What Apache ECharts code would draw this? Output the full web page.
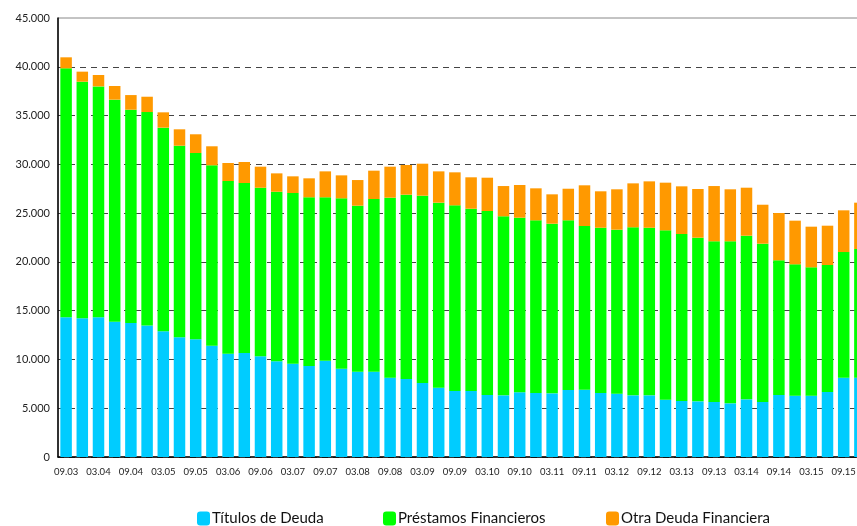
<!DOCTYPE html>
<html>
<head>
<meta charset="utf-8">
<script src="https://cdn.jsdelivr.net/npm/echarts@6/dist/echarts.min.js"></script>
<style>html,body{margin:0;padding:0;background:#fff;}#c{width:857px;height:526px;}</style>
</head>
<body>
<div id="c"></div>
<script>
const categories = [
  "09.03","12.03","03.04","06.04","09.04","12.04","03.05","06.05","09.05","12.05",
  "03.06","06.06","09.06","12.06","03.07","06.07","09.07","12.07","03.08","06.08",
  "09.08","12.08","03.09","06.09","09.09","12.09","03.10","06.10","09.10","12.10",
  "03.11","06.11","09.11","12.11","03.12","06.12","09.12","12.12","03.13","06.13",
  "09.13","12.13","03.14","06.14","09.14","12.14","03.15","06.15","09.15","12.15"
];
const titulosDeuda = [
  14320,14210,14320,13870,13730,13490,12880,12270,12060,11410,
  10590,10660,10320,9810,9570,9330,9870,9050,8750,8750,
  8130,7995,7585,7105,6765,6765,6355,6320,6630,6560,
  6525,6870,6900,6560,6490,6320,6320,5875,5740,5705,
  5640,5500,5910,5640,6355,6285,6285,6660,8130,8130
];
const prestamosFinancieros = [
  25520,24260,23670,22760,21870,21870,20880,19640,19100,18490,
  17700,17425,17280,17380,17490,17290,16750,17465,17010,17695,
  18450,18895,19200,18965,19030,18685,18860,18350,17900,17700,
  17390,17390,16780,16940,16810,17225,17180,17360,17120,16775,
  16470,16610,16775,16225,13805,13465,13155,13020,12880,13190
];
const otraDeudaFinanciera = [
  1130,1030,1165,1400,1500,1570,1570,1680,1920,1950,
  1845,2155,2160,1885,1710,1945,2660,2355,2630,2905,
  3180,3040,3280,3210,3385,3220,3415,3105,3350,3280,
  3010,3240,4170,3735,4140,4505,4755,4885,4885,4990,
  5665,5330,4920,3995,4850,4475,4170,4030,4275,4750
];
const seriesNames = ["Títulos de Deuda","Préstamos Financieros","Otra Deuda Financiera"];
const colors = ["#00CCFF","#00FF00","#FF9900"];

const chart = echarts.init(document.getElementById('c'), null, {renderer:'canvas'});
const fmt = v => String(v).replace(/\B(?=(\d{3})+(?!\d))/g, '.');
const legendText = {fontFamily:'Lato', fontSize:15, color:'#111', padding:[0,0,0,-3]};
function mkLegend(name, left){
  return {data:[name], left:left, top:511, padding:0, itemWidth:13, itemHeight:14, icon:'roundRect',
    textStyle:legendText, selectedMode:false};
}
chart.setOption({
  animation:false,
  color:colors,
  grid:{left:58, top:18, height:439, width:810, outerBoundsMode:'none', containLabel:false,
        show:true, borderColor:'#888', borderWidth:1},
  legend:[mkLegend(seriesNames[0],197), mkLegend(seriesNames[1],383), mkLegend(seriesNames[2],606)],
  xAxis:{
    type:'category', data:categories,
    axisLine:{lineStyle:{color:'#000', width:1.5}},
    axisTick:{interval:0, length:4, lineStyle:{color:'#000'}},
    axisLabel:{interval:1, fontFamily:'Lato', fontSize:9.5, color:'#222', margin:10}
  },
  yAxis:{
    type:'value', min:0, max:45000, interval:5000,
    axisLine:{show:true, lineStyle:{color:'#000', width:1.5}},
    axisTick:{show:false},
    axisLabel:{fontFamily:'Lato', fontSize:11, color:'#222', margin:8, formatter:fmt},
    splitLine:{show:true, showMaxLine:false, lineStyle:{color:'#444', type:[6,5], width:1}}
  },
  series:[
    {name:seriesNames[0], type:'bar', stack:'d', data:titulosDeuda, barWidth:11.5},
    {name:seriesNames[1], type:'bar', stack:'d', data:prestamosFinancieros, barWidth:11.5},
    {name:seriesNames[2], type:'bar', stack:'d', data:otraDeudaFinanciera, barWidth:11.5}
  ]
});
</script>
</body>
</html>
